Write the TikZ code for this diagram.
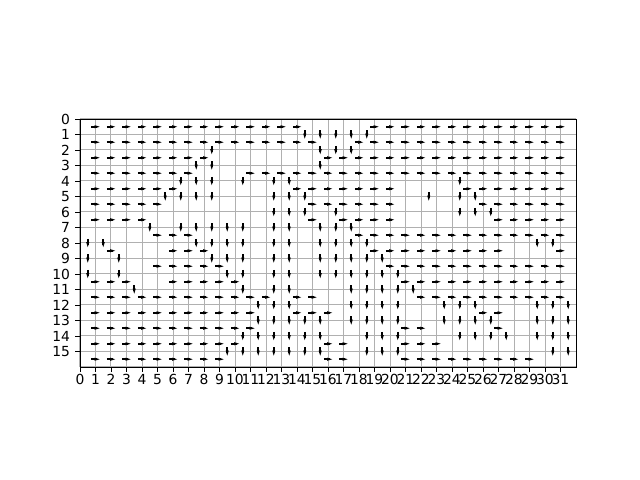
\documentclass[tikz,border=0pt]{standalone}
\usepackage{fontspec}
\setmainfont{DejaVu Sans}
\tikzset{
  gridline/.style={line width=0.75pt,draw={rgb,255:red,176;green,176;blue,176}},
  frameline/.style={line width=0.7pt,draw=black,line cap=rect},
  tickmark/.style={line width=0.7pt,draw=black},
  ticklabel/.style={font=\fontsize{10.4pt}{12pt}\selectfont,inner sep=0pt,text=black},
  flow/.style={line width=1.4pt,draw=black},
  flowhead/.style={fill=black,draw=none}
}
\newcommand{\hflow}[2]{%
  \draw[flow] (#1-0.27,#2+0.5) -- (#1+0.12,#2+0.5);
  \fill[flowhead] (#1-0.05,#2+0.6) -- (#1+0.27,#2+0.5) -- (#1-0.05,#2+0.4) -- cycle;}
\newcommand{\vflow}[2]{%
  \draw[flow] (#1+0.5,#2-0.27) -- (#1+0.5,#2+0.12);
  \fill[flowhead] (#1+0.4,#2-0.05) -- (#1+0.5,#2+0.27) -- (#1+0.6,#2-0.05) -- cycle;}
\newcommand{\hrow}[2]{\foreach \a in {#2}{\hflow{\a}{#1}}}
\newcommand{\vrow}[2]{\foreach \a in {#2}{\vflow{\a}{#1}}}
\begin{document}
\begin{tikzpicture}[x=11.625pt,y=-11.625pt]
\useasboundingbox (-80/15.5,-119/15.5) rectangle (560/15.5,361/15.5);
\foreach \i in {0,...,32}{\draw[gridline] (\i,0) -- (\i,16);}
\foreach \j in {0,...,16}{\draw[gridline] (0,\j) -- (32,\j);}
\hrow{0}{1,...,14,19,20,...,31}
\hrow{1}{1,...,15,18,19,...,31}
\hrow{2}{1,...,8,16,17,...,31}
\hrow{3}{1,...,7,11,12,...,31}
\hrow{4}{1,...,6,14,15,...,20,25,26,...,31}
\hrow{5}{1,...,5,15,16,...,20,26,27,...,31}
\hrow{6}{1,...,4,15,17,18,19,20,27,28,...,31}
\hrow{7}{5,6,7,18,19,...,31}
\hrow{8}{2,6,7,8,19,20,...,27,31}
\hrow{9}{5,6,7,8,9,20,21,...,31}
\hrow{10}{1,2,3,6,7,8,9,10,21,22,...,31}
\hrow{11}{1,...,12,14,15,22,23,...,31}
\hrow{12}{1,...,11,14,15,16,26,27}
\hrow{13}{1,...,11,21,22,27}
\hrow{14}{1,...,10,16,17,21,22,23}
\hrow{15}{1,...,9,16,17,21,22,...,29}
\vrow{1}{14,15,16,17,18}
\vrow{2}{8,15,16,17}
\vrow{3}{7,8,15}
\vrow{4}{6,7,8,10,12,13,24}
\vrow{5}{5,6,7,8,12,13,14,22,24,25}
\vrow{6}{12,13,14,16,24,25,26}
\vrow{7}{4,6,7,8,9,10,12,13,15,16,17}
\vrow{8}{0,1,7,8,9,10,12,13,15,16,17,18,29,30}
\vrow{9}{0,2,8,9,10,12,13,15,16,17,18,19}
\vrow{10}{0,2,9,10,12,13,15,16,17,18,19,20}
\vrow{11}{3,10,12,13,17,18,19,20,21}
\vrow{12}{11,12,13,17,18,19,20,23,24,25,29,30,31}
\vrow{13}{11,12,13,14,15,17,18,19,20,23,24,25,26,29,30,31}
\vrow{14}{10,11,12,13,14,15,18,19,20,24,25,26,27,29,30,31}
\vrow{15}{9,10,11,12,13,14,15,18,19,20,30,31}
\draw[frameline] (0,0) rectangle (32,16);
\foreach \i in {0,...,31}{
  \draw[tickmark] (\i,16) -- ++(0,0.31);
  \node[ticklabel,anchor=base] (xl\i) at (\i,17.1) {\i};}
\foreach \j in {0,...,15}{
  \draw[tickmark] (0,\j) -- ++(-0.31,0);
  \node[ticklabel,anchor=east] (yl\j) at (-0.63,\j) {\j};}
\end{tikzpicture}
\end{document}
